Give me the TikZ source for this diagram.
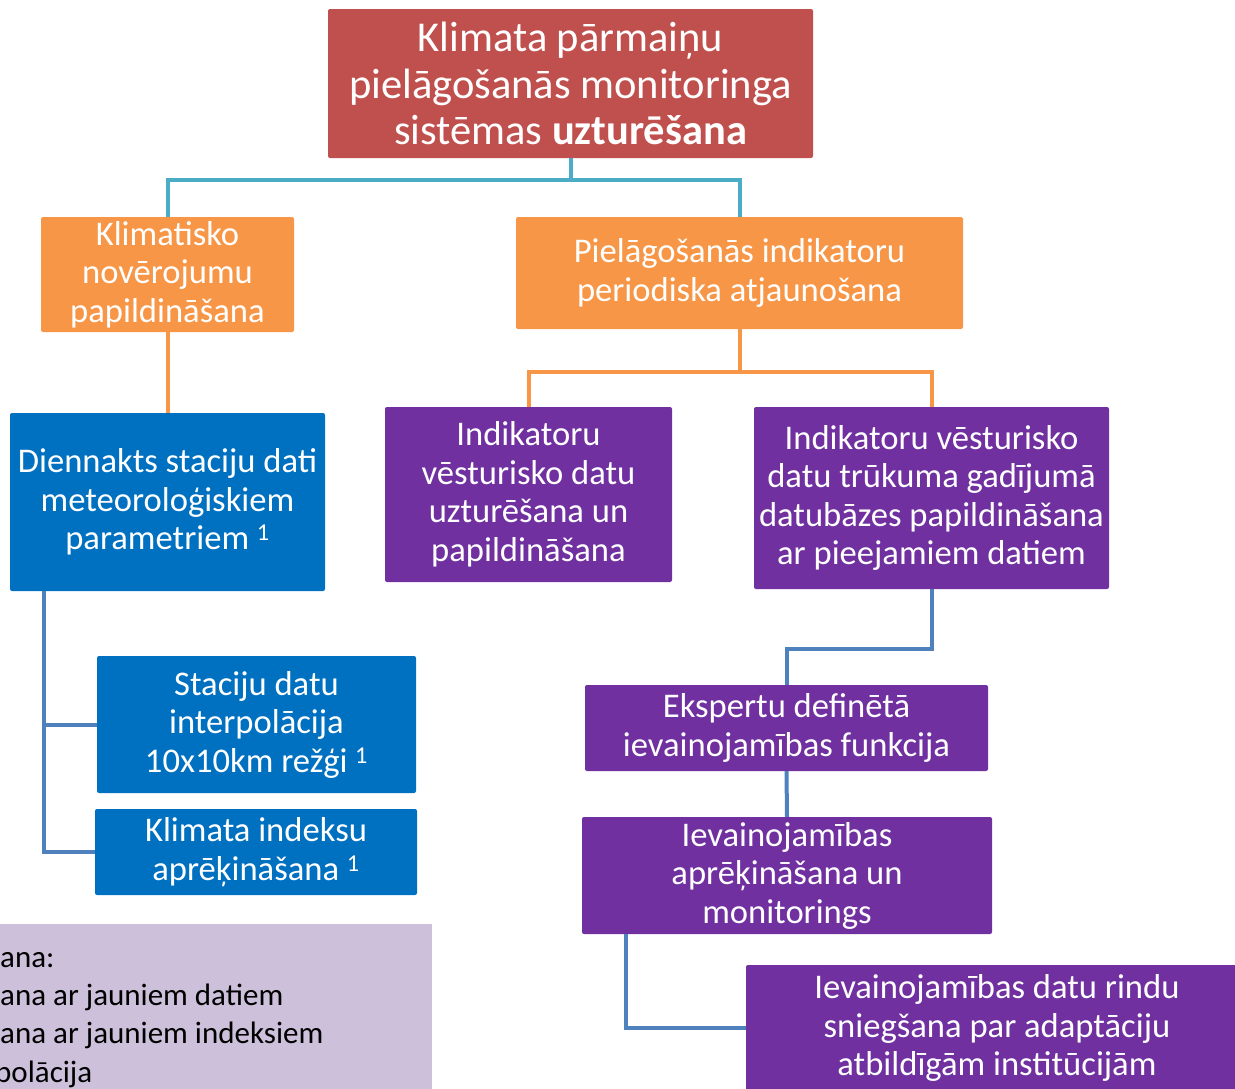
\documentclass[tikz,border=0pt]{standalone}
\usepackage{fontspec}
\setmainfont{Carlito}
\usepackage{xcolor}
\usepackage{tikz}
\usetikzlibrary{positioning}
\definecolor{titlered}{RGB}{192, 80, 77}
\definecolor{boxorange}{RGB}{247, 150, 70}
\definecolor{boxblue}{RGB}{0, 112, 192}
\definecolor{boxpurple}{RGB}{112, 48, 160}
\definecolor{lavender}{RGB}{204, 192, 218}
\definecolor{tealline}{RGB}{75, 172, 198}
\definecolor{blueline}{RGB}{79, 129, 189}

\tikzset{
    box/.style={rounded corners=2pt, text=white, align=center, inner sep=0pt,
        font=\fontsize{34.6}{38.5}\selectfont},
    titlebox/.style={box, fill=titlered, font=\fontsize{42.5}{46.5}\selectfont},
    orangebox/.style={box, fill=boxorange},
    bluebox/.style={box, fill=boxblue},
    purplebox/.style={box, fill=boxpurple},
    notebox/.style={fill=lavender, inner sep=0pt},
    link/.style={line width=4pt},
}

\begin{document}
\begin{tikzpicture}[x=1pt, y=-1pt]
    \useasboundingbox (0,0) rectangle (1235,1088);
    \clip (0,0) rectangle (1235,1088);

    % top of the tree
    \node[titlebox, minimum width=485, minimum height=149] (title) at (570.5,83.5)
        {Klimata pārmaiņu\\pielāgošanās monitoringa\\sistēmas \textbf{uzturēšana}};

    % two main branches
    \node[orangebox, minimum width=253, minimum height=115] (klim) at (167.5,274.5)
        {Klimatisko\\novērojumu\\papildināšana};
    \node[orangebox, minimum width=447, minimum height=112] (piel) at (739.5,273)
        {Pielāgošanās indikatoru\\periodiska atjaunošana};

    % observations branch
    \node[bluebox, minimum width=315, minimum height=178] (dien) at (167.5,502)
        {Diennakts staciju dati\\meteoroloģiskiem\\parametriem \textsuperscript{1}};
    \node[bluebox, minimum width=319, minimum height=137] (stac) at (256.5,724.5)
        {Staciju datu\\interpolācija\\10x10km režģi \textsuperscript{1}};
    \node[bluebox, minimum width=322, minimum height=86] (kind) at (256,852)
        {Klimata indeksu\\aprēķināšana \textsuperscript{1}};

    % indicator branch
    \node[purplebox, minimum width=287, minimum height=175] (ind1) at (528.5,494.5)
        {Indikatoru\\vēsturisko datu\\uzturēšana un\\papildināšana};
    \node[purplebox, minimum width=355, minimum height=182] (ind2) at (931.5,498)
        {Indikatoru vēsturisko\\datu trūkuma gadījumā\\datubāzes papildināšana\\ar pieejamiem datiem};
    \node[purplebox, minimum width=403, minimum height=86] (eksp) at (786.5,728)
        {Ekspertu definētā\\ievainojamības funkcija};
    \node[purplebox, minimum width=410, minimum height=117] (aprek) at (787,875.5)
        {Ievainojamības\\aprēķināšana un\\monitorings};
    \node[purplebox, minimum width=502, minimum height=126] (rindu) at (997,1028)
        {Ievainojamības datu rindu\\sniegšana par adaptāciju\\atbildīgām institūcijām};

    % note in the corner
    \node[notebox, minimum width=444, minimum height=176] (note) at (210,1012) {};
    \node[anchor=west, align=left, inner sep=0pt, font=\fontsize{31}{38.2}\selectfont] (notetext) at (0,1020)
        {ana:\\ana ar jauniem datiem\\ana ar jauniem indeksiem\\\hspace*{-5pt}polācija};

    % connectors
    \draw[link, tealline] (title.south) -- ++(0,22) -| (klim.north);
    \draw[link, tealline] (title.south) -- ++(0,22) -| (piel.north);
    \draw[link, boxorange] (klim.south) -- (dien.north);
    \draw[link, boxorange] (piel.south) -- ++(0,43) -| (ind1.north);
    \draw[link, boxorange] (piel.south) -- ++(0,43) -| (ind2.north);
    \draw[link, blueline] (dien.south west) ++(34,0) |- (stac.west);
    \draw[link, blueline] (dien.south west) ++(34,0) |- (kind.west);
    \draw[link, blueline] (ind2.south) -- ++(0,60) -| (eksp.north);
    \draw[link, blueline] (eksp.south) -- (aprek.north);
    \draw[link, blueline] (aprek.south west) ++(44,0) |- (rindu.west);
\end{tikzpicture}
\end{document}
